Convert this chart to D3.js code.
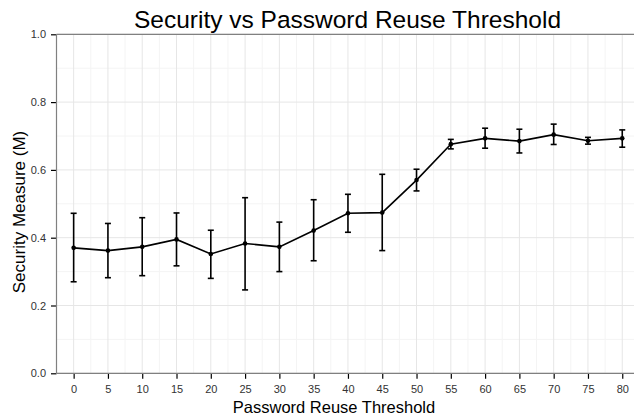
<!DOCTYPE html>
<html>
<head>
<meta charset="utf-8">
<script src="https://cdn.jsdelivr.net/npm/d3@7"></script>
<style>
html,body{margin:0;padding:0;background:#fff;overflow:hidden;}
svg{display:block;font-family:"Liberation Sans",Arial,Helvetica,sans-serif;}
</style>
</head>
<body>
<svg id="chart" width="634" height="417"></svg>
<script>
const thresholds = [0,5,10,15,20,25,30,35,40,45,50,55,60,65,70,75,80];
const measure    = [0.370,0.362,0.373,0.395,0.352,0.383,0.373,0.421,0.472,0.474,0.570,0.676,0.693,0.685,0.704,0.686,0.693];
const errLow     = [0.270,0.282,0.288,0.317,0.280,0.246,0.300,0.332,0.416,0.362,0.538,0.662,0.664,0.650,0.675,0.676,0.667];
const errHigh    = [0.472,0.442,0.459,0.473,0.422,0.518,0.446,0.512,0.528,0.587,0.602,0.690,0.723,0.720,0.735,0.696,0.718];
const yTicks = [0.0,0.2,0.4,0.6,0.8,1.0];
const yMinor = [0.1,0.3,0.5,0.7,0.9];
const xMinor = [-2.5,2.5,7.5,12.5,17.5,22.5,27.5,32.5,37.5,42.5,47.5,52.5,57.5,62.5,67.5,72.5,77.5,82.5];
const title = "Security vs Password Reuse Threshold";
const xTitle = "Password Reuse Threshold";
const yTitle = "Security Measure (M)";

const svg = d3.select("#chart");
const L = 56.5, T = 34.3, B = 373.3, R = 639.4;
const x = d3.scaleLinear().domain([-2.5, 82.5]).range([L, R]);
const y = d3.scaleLinear().domain([0, 1]).range([B, T]);

const g = svg.append("g");
// minor grid
g.selectAll(".vmin").data(xMinor).join("line")
  .attr("x1", d => x(d)).attr("x2", d => x(d)).attr("y1", T).attr("y2", B)
  .attr("stroke", "#f4f4f4").attr("stroke-width", 1);
g.selectAll(".hmin").data(yMinor).join("line")
  .attr("x1", L).attr("x2", R).attr("y1", d => y(d)).attr("y2", d => y(d))
  .attr("stroke", "#f4f4f4").attr("stroke-width", 1);
// major grid
g.selectAll(".vmaj").data(thresholds).join("line")
  .attr("x1", d => x(d)).attr("x2", d => x(d)).attr("y1", T).attr("y2", B)
  .attr("stroke", "#e6e6e6").attr("stroke-width", 1);
g.selectAll(".hmaj").data(yTicks).join("line")
  .attr("x1", L).attr("x2", R).attr("y1", d => y(d)).attr("y2", d => y(d))
  .attr("stroke", "#e6e6e6").attr("stroke-width", 1);

// axes
const xAxis = d3.axisBottom(x).tickValues(thresholds).tickSize(5.5).tickPadding(6.5);
const yAxis = d3.axisLeft(y).tickValues(yTicks).tickFormat(d3.format(".1f")).tickSize(5.5).tickPadding(5);
const gx = svg.append("g").attr("transform", `translate(0,${B})`).call(xAxis);
const gy = svg.append("g").attr("transform", `translate(${L},0)`).call(yAxis);
[gx, gy].forEach(a => {
  a.select(".domain").remove();
  a.selectAll(".tick line").attr("stroke", "#000").attr("stroke-width", 1.2);
  a.selectAll(".tick text").attr("fill", "#333").attr("font-size", 11).attr("font-family", "Liberation Sans, Arial, sans-serif");
});
// panel border lines (left, bottom, top)
svg.append("line").attr("x1", L).attr("x2", L).attr("y1", T).attr("y2", B).attr("stroke", "#808080").attr("stroke-width", 1.2);
svg.append("line").attr("x1", L).attr("x2", R).attr("y1", B).attr("y2", B).attr("stroke", "#808080").attr("stroke-width", 1.2);
svg.append("line").attr("x1", L).attr("x2", R).attr("y1", T).attr("y2", T).attr("stroke", "#808080").attr("stroke-width", 1.2);

// data
const data = thresholds.map((t, i) => ({t, m: measure[i], lo: errLow[i], hi: errHigh[i]}));
const cap = 3;
const eb = svg.append("g").attr("stroke", "#000").attr("stroke-width", 1.6);
eb.selectAll(".ev").data(data).join("line")
  .attr("x1", d => x(d.t)).attr("x2", d => x(d.t)).attr("y1", d => y(d.lo)).attr("y2", d => y(d.hi));
eb.selectAll(".ct").data(data).join("line")
  .attr("x1", d => x(d.t) - cap).attr("x2", d => x(d.t) + cap).attr("y1", d => y(d.hi)).attr("y2", d => y(d.hi));
eb.selectAll(".cb").data(data).join("line")
  .attr("x1", d => x(d.t) - cap).attr("x2", d => x(d.t) + cap).attr("y1", d => y(d.lo)).attr("y2", d => y(d.lo));

svg.append("path").datum(data)
  .attr("fill", "none").attr("stroke", "#000").attr("stroke-width", 1.6)
  .attr("d", d3.line().x(d => x(d.t)).y(d => y(d.m)));
svg.append("g").selectAll("circle").data(data).join("circle")
  .attr("cx", d => x(d.t)).attr("cy", d => y(d.m)).attr("r", 2.3).attr("fill", "#000");

// titles
svg.append("text").attr("x", 347.5).attr("y", 28).attr("text-anchor", "middle")
  .attr("font-size", 24.5).attr("fill", "#000").text(title);
svg.append("text").attr("x", 334).attr("y", 413).attr("text-anchor", "middle")
  .attr("font-size", 16.5).attr("fill", "#000").text(xTitle);
svg.append("text").attr("transform", "translate(24.5,212) rotate(-90)").attr("text-anchor", "middle")
  .attr("font-size", 17).attr("fill", "#000").text(yTitle);
</script>
</body>
</html>
